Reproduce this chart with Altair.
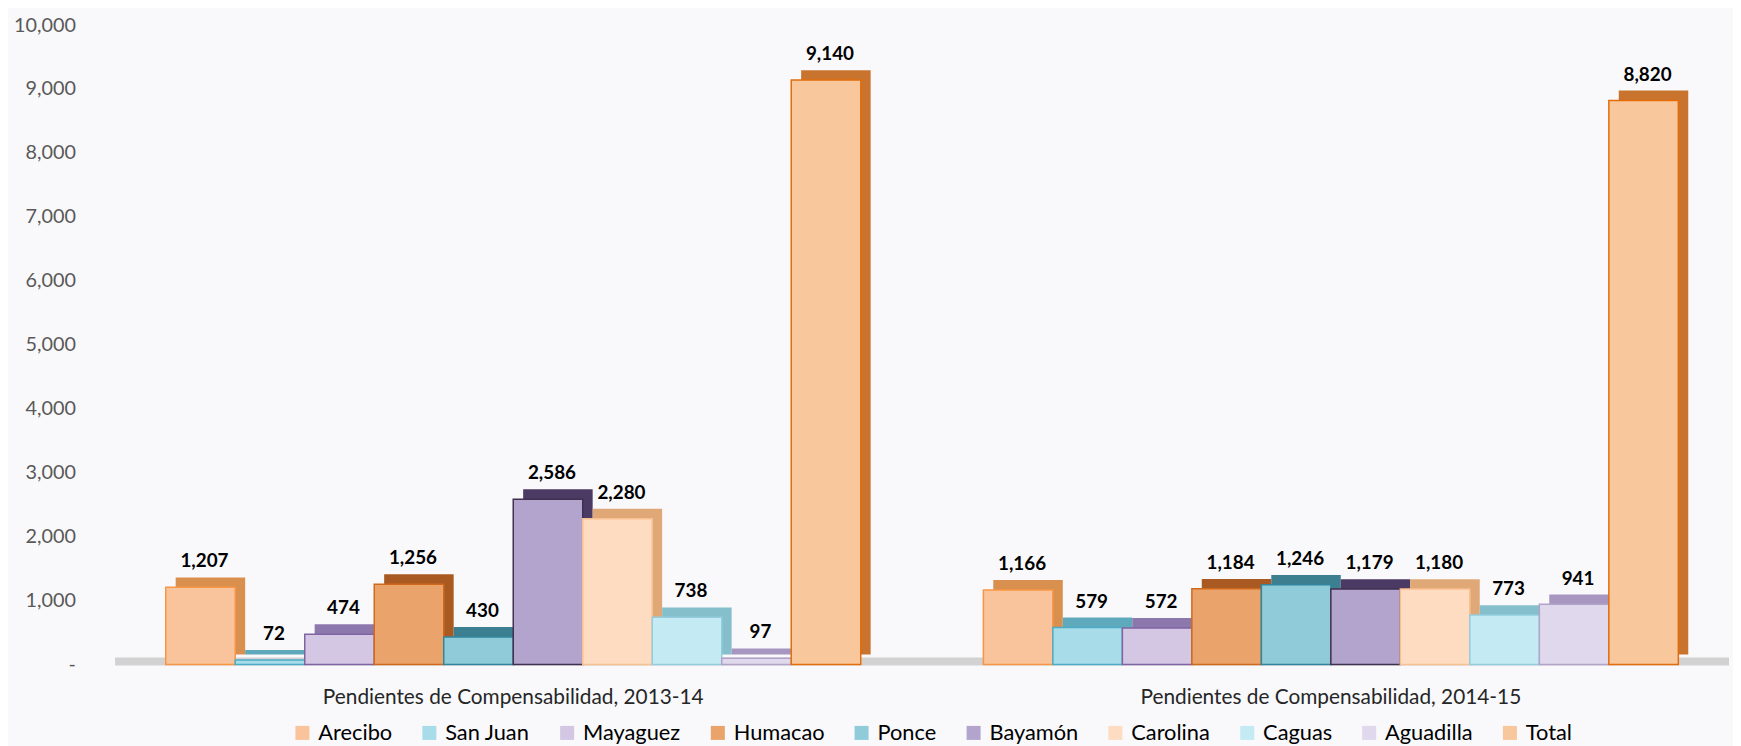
import altair as alt
import pandas as pd

groups = ["Pendientes de Compensabilidad, 2013-14", "Pendientes de Compensabilidad, 2014-15"]
series = ["Arecibo", "San Juan", "Mayaguez", "Humacao", "Ponce", "Bayamón",
          "Carolina", "Caguas", "Aguadilla", "Total"]
values_2013 = [1207, 72, 474, 1256, 430, 2586, 2280, 738, 97, 9140]
values_2014 = [1166, 579, 572, 1184, 1246, 1179, 1180, 773, 941, 8820]

fill_colors = ["#f9c49b", "#a9dce9", "#d3c7e3", "#eaa36a", "#8fcbd9",
               "#b2a4cc", "#fddcc2", "#c4ebf4", "#e0d8ec", "#f9c79c"]
border_colors = ["#f79646", "#4bacc6", "#8064a2", "#d0691c", "#31859c",
                 "#403151", "#fabf8f", "#93cddd", "#b3a2c7", "#e46c0a"]
shade_colors = ["#d9904f", "#5fa9bd", "#8d78ad", "#a85a22", "#3c7f90",
                "#4b3a63", "#e0a777", "#86bfcc", "#a797c0", "#c8742f"]
y_ticks = list(range(0, 10001, 1000))

rows = []
for g, vals in zip(groups, [values_2013, values_2014]):
    for s, v in zip(series, vals):
        rows.append({"group": g, "series": s, "value": v})
df = pd.DataFrame(rows)

W, H = 1628, 645
P_IN, P_OUT = 0.15, 0.062
DEPTH = 10
LABEL_DX = 4
step = W / (len(groups) - P_IN + 2 * P_OUT)
band = step * (1 - P_IN)

x_axis = alt.Axis(title=None, labelAngle=0, ticks=False, domain=False,
                  labelFontSize=21, labelColor="#262626", labelPadding=22,
                  labelLimit=0)
x_scale = alt.Scale(paddingInner=P_IN, paddingOuter=P_OUT)
x_enc = alt.X("group:N", sort=groups, scale=x_scale, axis=x_axis)
y_enc = alt.Y("value:Q", scale=alt.Scale(domain=[0, 10000], nice=False),
              axis=alt.Axis(title=None, values=y_ticks, grid=False, domain=False,
                            ticks=False, labelFontSize=20, labelColor="#595959",
                            labelPadding=40,
                            labelExpr="datum.value == 0 ? '-' : format(datum.value, ',')"))

base = alt.Chart(df)

floor = alt.Chart(pd.DataFrame({"value": [0]})).mark_rule(
    color="#d2d2d2", strokeWidth=8, yOffset=-3
).encode(y=alt.Y("value:Q"))

shadows = base.mark_bar(yOffset=-DEPTH).encode(
    x=x_enc,
    xOffset=alt.XOffset("series:N", sort=series,
                        scale=alt.Scale(range=[DEPTH, band + DEPTH],
                                        paddingInner=0, paddingOuter=0)),
    y=y_enc,
    color=alt.Color("series:N", sort=series,
                    scale=alt.Scale(domain=series, range=shade_colors), legend=None),
)

front = base.mark_bar(strokeWidth=1.5).encode(
    x=x_enc,
    xOffset=alt.XOffset("series:N", sort=series,
                        scale=alt.Scale(range=[0, band], paddingInner=0, paddingOuter=0)),
    y=y_enc,
    color=alt.Color("series:N", sort=series,
                    scale=alt.Scale(domain=series, range=fill_colors),
                    legend=alt.Legend(orient="none", legendX=178, legendY=703,
                                      direction="horizontal", columns=10, title=None,
                                      labelFontSize=22, labelColor="black",
                                      symbolType="square", symbolSize=200,
                                      symbolStrokeWidth=0, columnPadding=26,
                                      labelOffset=5, padding=0, labelLimit=0)),
    stroke=alt.Stroke("series:N", sort=series,
                      scale=alt.Scale(domain=series, range=border_colors), legend=None),
)

labels = base.mark_text(fontWeight="bold", fontSize=19, baseline="bottom", dy=-16,
                        color="black").encode(
    x=alt.X("group:N", sort=groups, bandPosition=0, scale=x_scale, axis=x_axis),
    xOffset=alt.XOffset("series:N", sort=series,
                        scale=alt.Scale(type="point", padding=0.5,
                                        range=[LABEL_DX, band + LABEL_DX])),
    y=y_enc,
    text=alt.Text("value:Q", format=",")
)

chart = alt.layer(floor, shadows, front, labels).resolve_scale(
    color="independent", xOffset="independent"
).properties(
    width=W, height=H,
    padding={"left": 5, "top": 4, "right": 0, "bottom": 0},
    background="#f9f9fc",
).configure(font="Lato").configure_view(stroke=None)

chart.save("out.html", embed_options={"renderer": "svg", "actions": False})
